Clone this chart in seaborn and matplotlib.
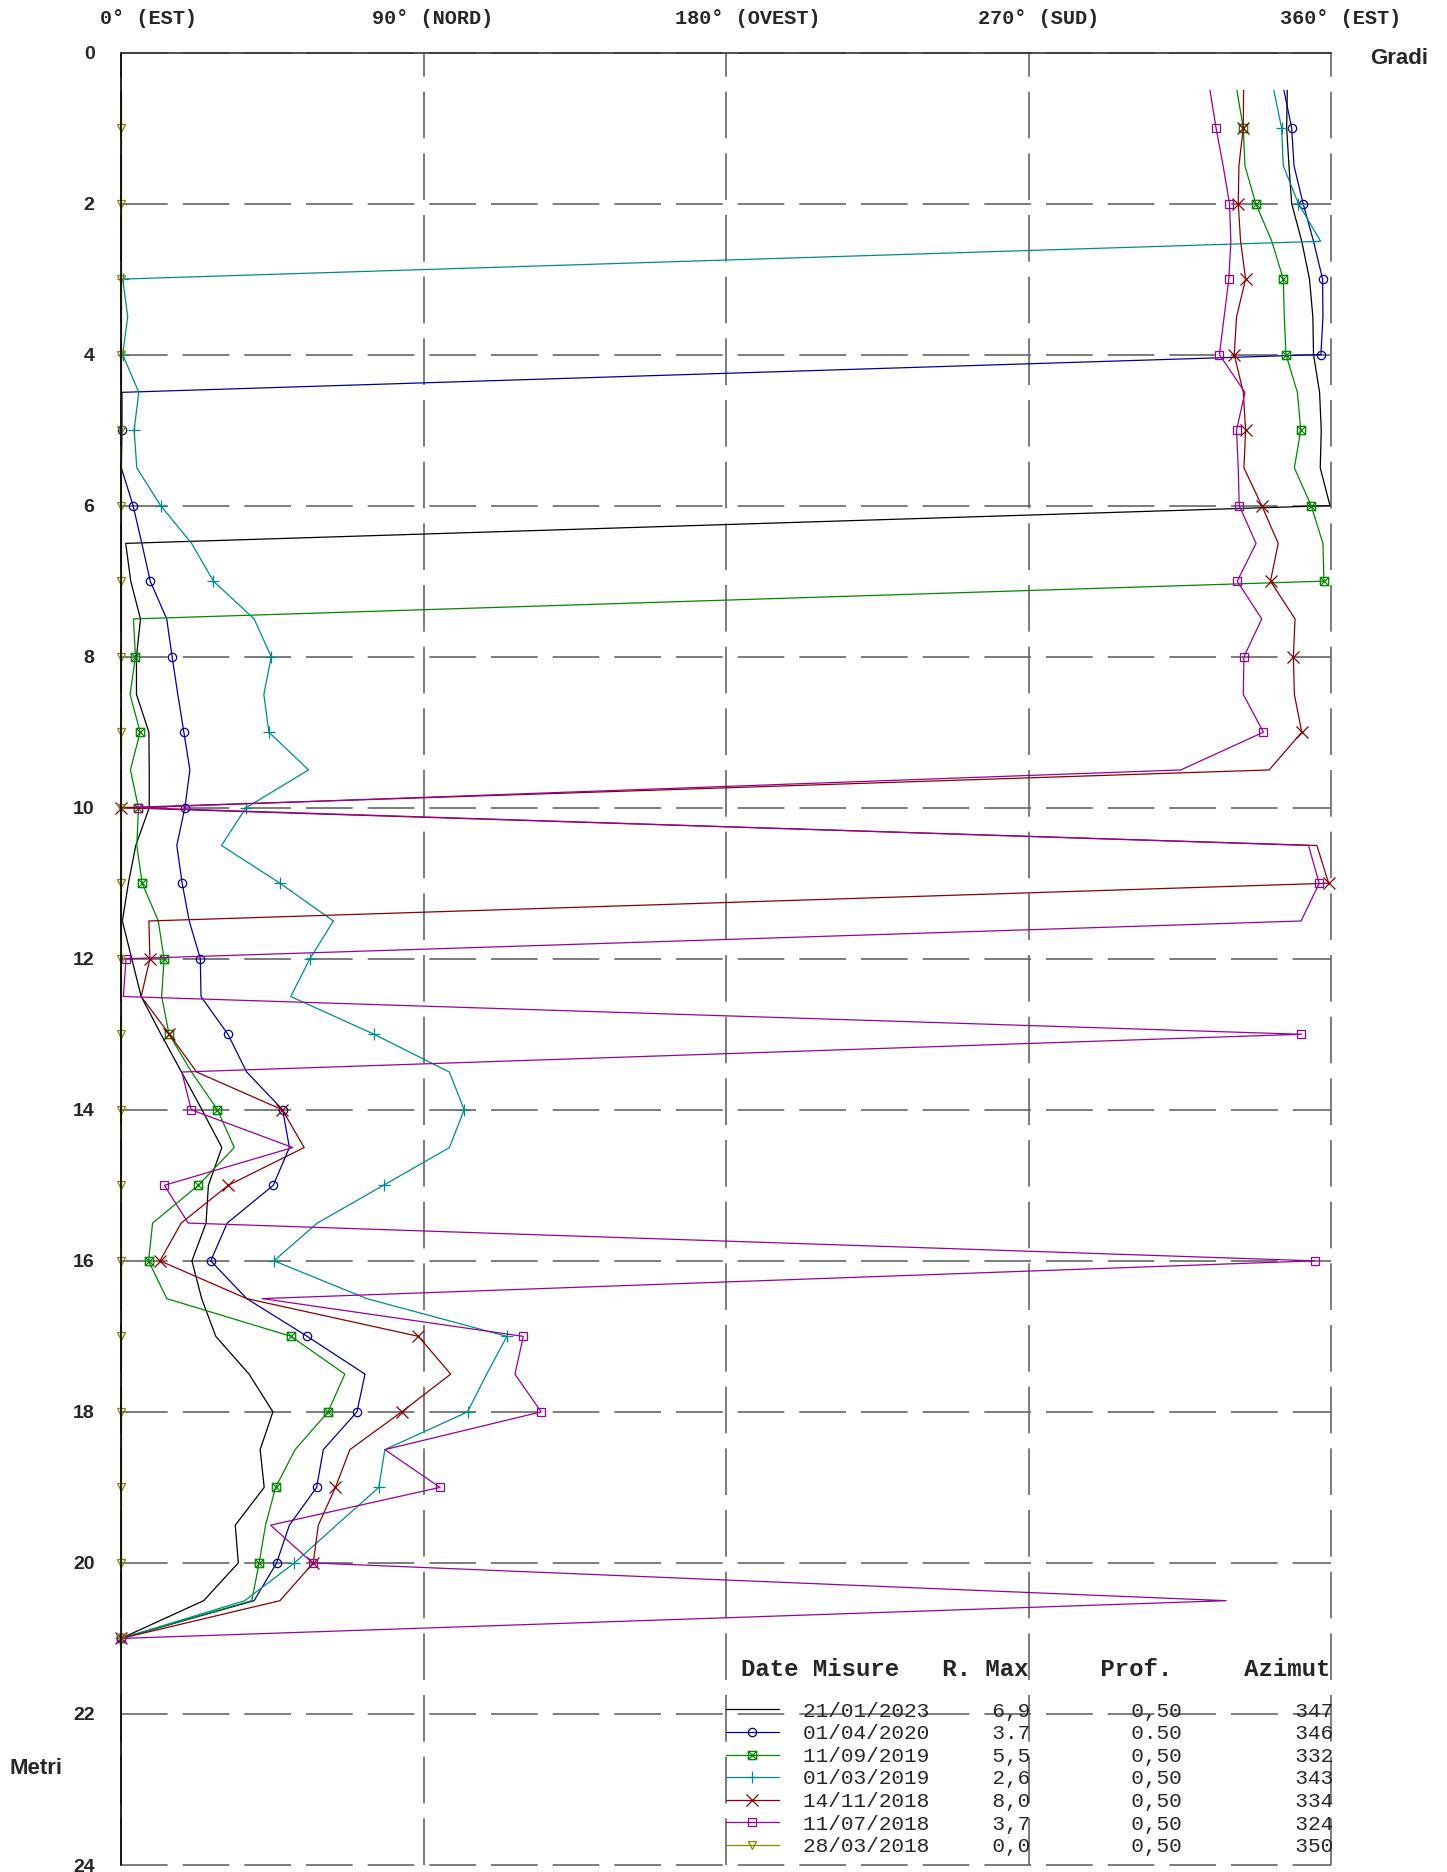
import matplotlib
matplotlib.use("Agg")
import matplotlib.pyplot as plt
from matplotlib.path import Path
import seaborn as sns

# profondita' di misura (m)
depths = [0.5, 1.0, 1.5, 2.0, 2.5, 3.0, 3.5, 4.0, 4.5, 5.0, 5.5, 6.0, 6.5, 7.0,
          7.5, 8.0, 8.5, 9.0, 9.5, 10.0, 10.5, 11.0, 11.5, 12.0, 12.5, 13.0, 13.5, 14.0,
          14.5, 15.0, 15.5, 16.0, 16.5, 17.0, 17.5, 18.0, 18.5, 19.0, 19.5, 20.0, 20.5, 21.0]

# azimut misurato (gradi) per ogni campagna
az_2023_01_21 = [347, 346.8, 347.5, 348.3, 351.3, 353.6, 354.6, 354.8, 356.6, 357.1, 356.8, 359.7, 1.4, 2.9,
                 5.8, 4.6, 4.6, 8.3, 8.4, 8.4, 4.4, 2.2, 0.4, 3.2, 6.0, 11.9, 18.0, 24.1,
                 30.0, 26.0, 25.3, 21.1, 24.0, 28.2, 38.1, 45.2, 41.4, 42.6, 34.0, 34.9, 24.6, 0]
az_2020_04_01 = [346, 348.3, 349.0, 351.7, 354.8, 357.5, 357.6, 357.0, 0.3, 0.3, 0.1, 3.6, 6.2, 8.7,
                 13.6, 15.2, 16.9, 18.7, 20.5, 19.0, 16.6, 18.2, 20.3, 23.6, 23.8, 31.8, 37.4, 48.1,
                 50.1, 45.3, 31.6, 26.7, 37.4, 55.4, 72.6, 70.2, 60.2, 58.2, 50.1, 46.3, 39.6, 0]
az_2019_09_11 = [332, 333.9, 334.4, 337.6, 342.4, 345.8, 346.1, 346.6, 350.0, 351.0, 349.1, 354.1, 357.6, 357.9,
                 3.7, 4.3, 2.7, 5.7, 2.8, 5.2, 4.7, 6.3, 11.1, 12.8, 12.1, 14.3, 21.0, 28.7,
                 33.7, 23.0, 9.4, 8.2, 13.6, 50.6, 66.6, 61.6, 51.8, 46.0, 43.0, 41.1, 38.9, 0]
az_2019_03_01 = [343, 345.3, 345.8, 350.3, 356.9, 0.5, 2.0, 0.5, 5.3, 3.9, 4.7, 11.8, 21.0, 27.5,
                 39.6, 44.7, 42.5, 44.0, 55.8, 37.2, 29.9, 47.3, 63.2, 56.2, 50.5, 75.3, 97.7, 102.1,
                 97.7, 78.1, 58.4, 45.5, 73.1, 114.8, 108.8, 103.1, 78.5, 76.7, 64.1, 51.6, 36.8, 0]
az_2018_11_14 = [334, 333.9, 332.6, 332.4, 333.1, 334.6, 331.9, 331.2, 333.9, 334.6, 334.1, 339.4, 344.3, 342.0,
                 349.3, 348.8, 349.1, 351.3, 341.6, 0, 355.8, 359.3, 8.3, 8.6, 6.0, 14.4, 22.5, 48.0,
                 54.5, 31.9, 17.9, 11.6, 37.4, 88.5, 98.1, 83.5, 68.1, 63.8, 58.7, 57.2, 47.3, 0]
az_2018_07_11 = [324, 325.8, 327.9, 329.8, 330.2, 329.6, 328.2, 326.8, 334.4, 331.9, 332.4, 332.7, 337.7, 332.1,
                 339.4, 334.1, 333.9, 339.9, 315.3, 5.0, 353.3, 356.5, 351.1, 1.5, 0.7, 351.2, 18.1, 20.9,
                 51.1, 12.9, 20.0, 355.1, 42.0, 119.7, 117.2, 125.0, 78.5, 94.9, 44.5, 57.0, 328.8, 0]
az_2018_03_28 = [0, 0, 0, 0, 0, 0, 0, 0, 0, 0, 0, 0, 0, 0,
                 0, 0, 0, 0, 0, 0, 0, 0, 0, 0, 0, 0, 0, 0,
                 0, 0, 0, 0, 0, 0, 0, 0, 0, 0, 0, 0, 0, 0]

dates = ["21/01/2023", "01/04/2020", "11/09/2019", "01/03/2019", "14/11/2018", "11/07/2018", "28/03/2018"]
r_max = ["6,9", "3.7", "5,5", "2,6", "8,0", "3,7", "0,0"]
prof = ["0,50", "0.50", "0,50", "0,50", "0,50", "0,50", "0,50"]
azimut = ["347", "346", "332", "343", "334", "324", "350"]
series = [az_2023_01_21, az_2020_04_01, az_2019_09_11, az_2019_03_01,
          az_2018_11_14, az_2018_07_11, az_2018_03_28]

# quadrato con croce (marker vuoto)
box_x = Path([(-1, -1), (1, -1), (1, 1), (-1, 1), (-1, -1), (-1, -1), (1, 1), (-1, 1), (1, -1)],
             [Path.MOVETO, Path.LINETO, Path.LINETO, Path.LINETO, Path.LINETO,
              Path.MOVETO, Path.LINETO, Path.MOVETO, Path.LINETO])

colors = ["#000000", "#000099", "#008800", "#008b8b", "#8b0000", "#990099", "#888800"]
markers = [None, "o", box_x, "+", "x", "s", "v"]
msizes = [0, 6, 6, 8, 8, 6, 6]

x_ticks = [0, 90, 180, 270, 360]
x_names = ["0° (EST)", "90° (NORD)", "180° (OVEST)", "270° (SUD)", "360° (EST)"]
y_ticks = [0, 2, 4, 6, 8, 10, 12, 14, 16, 18, 20, 22, 24]

sns.set_style("white")
plt.rcParams["font.family"] = ["Liberation Sans", "DejaVu Sans"]

fig = plt.figure(figsize=(14.47, 18.72), dpi=100)
ax = fig.add_axes([121 / 1447, 1 - 1865 / 1872, 1210 / 1447, (1865 - 52.5) / 1872])

lines = []
for vals, c, m, ms in zip(series, colors, markers, msizes):
    kw = dict(color=c, lw=0.9, clip_on=False)
    if m is not None:
        kw.update(marker=m, markevery=slice(1, None, 2), ms=ms, mec=c, mew=0.9, mfc="none")
    sns.lineplot(x=vals, y=depths, orient="y", sort=False, estimator=None,
                 legend=False, ax=ax, **kw)
    lines.append(ax.lines[-1])

ax.set_xlim(0, 360)
ax.set_ylim(24, 0)
ax.set_xlabel("")
ax.set_ylabel("")

# griglia tratteggiata
ax.set_xticks(x_ticks)
ax.set_xticklabels([])
ax.set_yticks(y_ticks)
ax.set_yticklabels([str(v) for v in y_ticks], fontsize=14, fontweight="bold")
ax.tick_params(axis="both", length=0)
ax.tick_params(axis="y", pad=19)
ax.grid(True, color="#666666", lw=1.2, linestyle=(0, (28, 9)))
for gl in ax.get_xgridlines() + ax.get_ygridlines():
    gl.set_clip_on(False)
ax.spines["right"].set_visible(False)
ax.spines["bottom"].set_visible(False)
ax.spines["left"].set_color("black")
ax.spines["left"].set_linewidth(1.2)
ax.spines["top"].set_color("#333333")
ax.spines["top"].set_linewidth(1.2)
ax.set_axisbelow(True)

# etichette in alto
for deg, name in zip(x_ticks, x_names):
    off = -21 if deg == 0 else -51
    ax.annotate(name, xy=(deg, 1), xycoords=("data", "axes fraction"),
                xytext=(off, 33.5), textcoords="offset pixels", ha="left", va="center",
                family="Liberation Mono", fontweight="bold", fontsize=14.6)

fig.text(1399 / 1447, 1 - 59 / 1872, "Gradi", ha="center", va="center",
         fontsize=16, fontweight="bold")
fig.text(36 / 1447, 1 - 1768 / 1872, "Metri", ha="center", va="center",
         fontsize=16, fontweight="bold")

# legenda a tabella
fig.text(741 / 1447, 1 - 1669 / 1872, "Date Misure   R. Max     Prof.     Azimut",
         ha="left", va="center", family="Liberation Mono", fontweight="bold", fontsize=17.3)
labels = [f"{d}{r:>8}{p:>12}{a:>12}" for d, r, p, a in zip(dates, r_max, prof, azimut)]
leg = ax.legend(lines, labels, loc="center left",
                bbox_to_anchor=(726 / 1447, 1 - 1779 / 1872), bbox_transform=fig.transFigure,
                frameon=False, borderpad=0, borderaxespad=0, handlelength=2.5,
                handletextpad=1.15, labelspacing=0.17, numpoints=1,
                prop={"family": "Liberation Mono", "size": 15.2})

fig.savefig("out.png", dpi=100)
